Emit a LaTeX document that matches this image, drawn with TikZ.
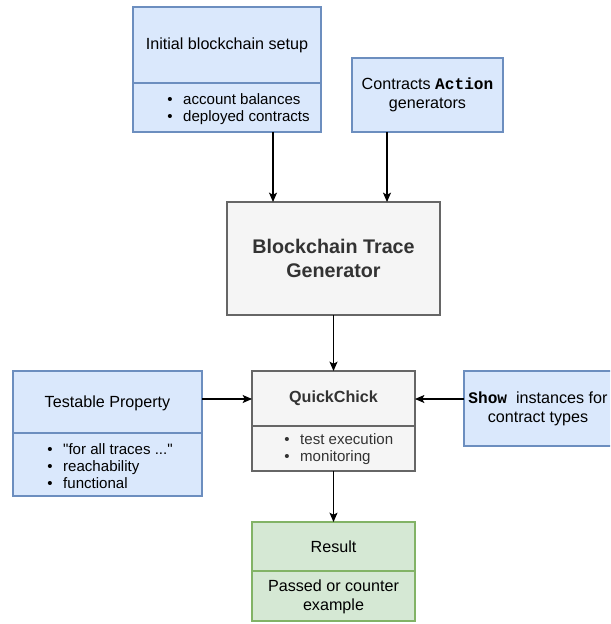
\documentclass[tikz,border=0pt]{standalone}
\usepackage{fontspec}
\setmainfont{Liberation Sans}
\setmonofont{Liberation Mono}
\usetikzlibrary{arrows.meta}
\definecolor{bluefill}{HTML}{DAE8FC}
\definecolor{bluedraw}{HTML}{6C8EBF}
\definecolor{grayfill}{HTML}{F5F5F5}
\definecolor{graydraw}{HTML}{666666}
\definecolor{graytext}{HTML}{333333}
\definecolor{greenfill}{HTML}{D5E8D4}
\definecolor{greendraw}{HTML}{82B366}
\begin{document}
\begin{tikzpicture}[x=0.75pt,y=-0.75pt,
  box/.style={draw, line width=0.8pt, anchor=north west, inner sep=0pt, outer sep=0pt},
  bluebox/.style={box, fill=bluefill, draw=bluedraw},
  graybox/.style={box, fill=grayfill, draw=graydraw},
  greenbox/.style={box, fill=greenfill, draw=greendraw},
  txt/.style={font=\fontsize{12.1}{14.25}\selectfont, align=center, inner sep=0pt},
  lst/.style={font=\fontsize{11.3}{12.75}\selectfont, align=left, anchor=west, inner sep=0pt},
  big/.style={font=\fontsize{14.8}{18}\selectfont\bfseries, align=center, inner sep=0pt, text=graytext},
  arr/.style={line width=0.8pt, -{Stealth[length=7pt,width=6pt,inset=1.5pt]}}
]
\useasboundingbox (0,0) rectangle (610,624);
\clip (0,0) rectangle (610,624);

% boxes
\node[bluebox, minimum width=188*0.75pt, minimum height=125*0.75pt] (init) at (133,7) {};
\draw[bluedraw, line width=0.8pt] (133,83) -- (321,83);
\node[bluebox, minimum width=151*0.75pt, minimum height=74*0.75pt] (contr) at (352,58) {};
\node[graybox, minimum width=213*0.75pt, minimum height=113*0.75pt] (gen) at (227,202) {};
\node[bluebox, minimum width=189*0.75pt, minimum height=125*0.75pt] (test) at (13,371) {};
\draw[bluedraw, line width=0.8pt] (13,433) -- (202,433);
\node[graybox, minimum width=163*0.75pt, minimum height=100*0.75pt] (qc) at (252,371) {};
\draw[graydraw, line width=0.8pt] (252,426) -- (415,426);
\node[bluebox, minimum width=152*0.75pt, minimum height=75*0.75pt] (show) at (464,371) {};
\node[greenbox, minimum width=163*0.75pt, minimum height=99*0.75pt] (res) at (252,522) {};
\draw[greendraw, line width=0.8pt] (252,571) -- (415,571);

% texts
\node[txt] (initT) at (227,45) {Initial blockchain setup};
\node[lst] (initL) at (167,109) {\textbullet\hspace{8pt}account balances\\\textbullet\hspace{8pt}deployed contracts};
\node[txt] (contrT) at (427.5,95) {Contracts \textbf{\texttt{Action}}\\generators};
\node[big] (genT) at (333.5,258) {Blockchain Trace\\Generator};
\node[txt] (testT) at (107.5,403) {Testable Property};
\node[lst] (testL) at (47,466) {\textbullet\hspace{8pt}\textquotedbl for all traces ...\textquotedbl\\\textbullet\hspace{8pt}reachability\\\textbullet\hspace{8pt}functional};
\node[txt, font=\fontsize{12.1}{14.25}\selectfont\bfseries, text=graytext] (qcT) at (333.5,398) {QuickChick};
\node[lst, text=graytext] (qcL) at (284,449.5) {\textbullet\hspace{8pt}test execution\\\textbullet\hspace{8pt}monitoring};
\node[txt] (showT) at (538,409) {\textbf{\texttt{Show}}\ \ instances for\\contract types};
\node[txt] (resT) at (333.5,547) {Result};
\node[txt] (resB) at (333.5,597) {Passed or counter\\example};

% connectors
\coordinate (ax1) at (273,0);
\coordinate (ax2) at (387,0);
\coordinate (ay) at (0,399);
\draw[arr] (init.south -| ax1) -- (gen.north -| ax1);
\draw[arr] (contr.south -| ax2) -- (gen.north -| ax2);
\draw[arr] (gen.south) -- (qc.north);
\draw[arr] (test.east |- ay) -- (qc.west |- ay);
\draw[arr] (show.west |- ay) -- (qc.east |- ay);
\draw[arr] (qc.south) -- (res.north);
\end{tikzpicture}
\end{document}
